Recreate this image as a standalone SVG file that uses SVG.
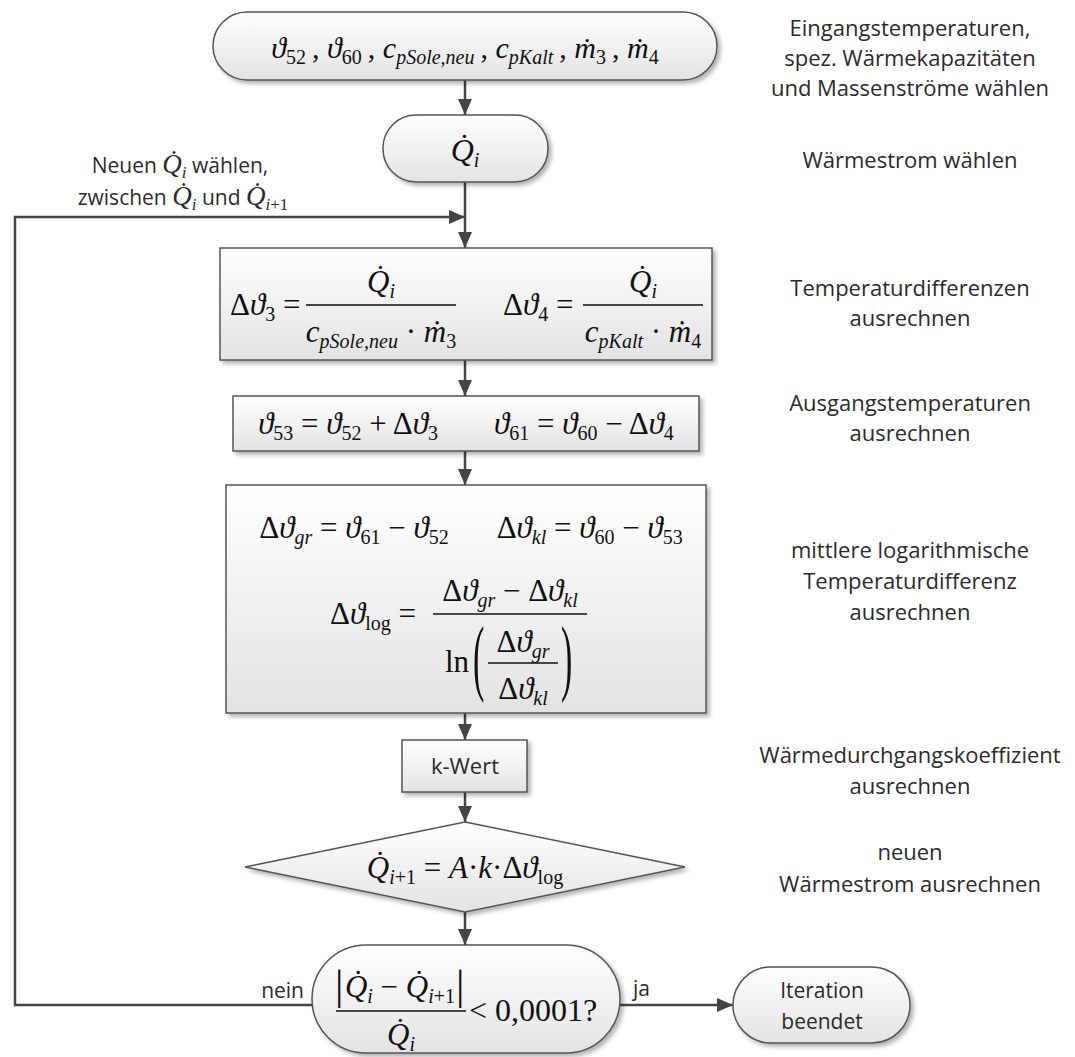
<svg xmlns="http://www.w3.org/2000/svg" width="1075" height="1057" viewBox="0 0 1075 1057">
<style>
.bg{fill:#fff}
.n{fill:url(#g);stroke:#555;stroke-width:1.5;filter:url(#sh)}
.cn{fill:none;stroke:#444;stroke-width:2.5}
.fl{stroke:#111;stroke-width:1.3}
.m{font-family:"Liberation Serif","DejaVu Serif",serif;font-size:31px;fill:#111}
.i{font-style:italic}
.s{font-size:20px}
.l{font-family:"Open Sans","Liberation Sans",sans-serif;font-size:21px;fill:#2b2b2b}
.side{font-size:22px}
.ctr{text-anchor:middle}
.end{text-anchor:end}
.q{font-family:"Liberation Serif","DejaVu Serif",serif;font-style:italic;font-size:27px}
.qs{font-family:"Liberation Serif","DejaVu Serif",serif;font-size:17px}
</style>
<defs>
<linearGradient id="g" x1="0" y1="0" x2="0" y2="1"><stop offset="0" stop-color="#ffffff"/><stop offset="1" stop-color="#e3e3e3"/></linearGradient>
<filter id="sh" x="-10%" y="-10%" width="130%" height="140%"><feDropShadow dx="3" dy="3" stdDeviation="2" flood-color="#000" flood-opacity="0.3"/></filter>
<marker id="ah" markerUnits="userSpaceOnUse" markerWidth="16" markerHeight="14" refX="16" refY="7" orient="auto"><path d="M0,0 L16,7 L0,14 z" fill="#444"/></marker>
</defs>
<rect class="bg" width="1075" height="1057"/>

<g id="connectors">
<line class="cn" x1="465" y1="80" x2="465" y2="115" marker-end="url(#ah)"/>
<line class="cn" x1="465" y1="182" x2="465" y2="248" marker-end="url(#ah)"/>
<path class="cn" d="M312,1005 H15 V217 H465" marker-end="url(#ah)"/>
<line class="cn" x1="465" y1="360" x2="465" y2="396" marker-end="url(#ah)"/>
<line class="cn" x1="465" y1="451" x2="465" y2="485" marker-end="url(#ah)"/>
<line class="cn" x1="465" y1="713" x2="465" y2="740" marker-end="url(#ah)"/>
<line class="cn" x1="465" y1="792" x2="465" y2="822" marker-end="url(#ah)"/>
<line class="cn" x1="465" y1="912" x2="465" y2="945" marker-end="url(#ah)"/>
<line class="cn" x1="620" y1="1005" x2="733" y2="1005" marker-end="url(#ah)"/>
</g>

<g id="start">
<rect class="n" x="213" y="12" width="504" height="68" rx="34"/>
<text class="m ctr" x="465" y="58" style="font-size:30px"><tspan class="i">ϑ</tspan><tspan class="s" dy="6">52</tspan><tspan dy="-6">&#8201;, </tspan><tspan class="i">ϑ</tspan><tspan class="s" dy="6">60</tspan><tspan dy="-6">&#8201;, </tspan><tspan class="i">c</tspan><tspan class="s i" dy="6">pSole,neu</tspan><tspan dy="-6">&#8201;, </tspan><tspan class="i">c</tspan><tspan class="s i" dy="6">pKalt</tspan><tspan dy="-6">&#8201;, </tspan><tspan class="i">ṁ</tspan><tspan class="s" dy="6">3</tspan><tspan dy="-6">&#8201;, </tspan><tspan class="i">ṁ</tspan><tspan class="s" dy="6">4</tspan></text>
</g>

<g id="qi">
<rect class="n" x="383" y="115" width="165" height="67" rx="33"/>
<text class="m ctr" x="465" y="161" style="font-size:32px"><tspan class="i">Q̇</tspan><tspan class="s i" dy="6">i</tspan></text>
</g>

<g id="loop-label">
<text class="l ctr" x="180" y="173">Neuen <tspan class="q">Q̇</tspan><tspan class="qs i" dy="5">i</tspan><tspan dy="-5"> wählen,</tspan></text>
<text class="l ctr" x="183" y="205">zwischen <tspan class="q">Q̇</tspan><tspan class="qs i" dy="5">i</tspan><tspan dy="-5"> und  </tspan><tspan class="q">Q̇</tspan><tspan class="qs" dy="5"><tspan class="i">i</tspan>+1</tspan></text>
</g>

<g id="box1">
<rect class="n" x="220" y="248" width="492" height="112"/>
<text class="m" x="230" y="315">Δ<tspan class="i">ϑ</tspan><tspan class="s" dy="6">3</tspan><tspan dy="-6"> =</tspan></text>
<text class="m ctr" x="381" y="292"><tspan class="i">Q̇</tspan><tspan class="s i" dy="6">i</tspan></text>
<line class="fl" x1="306" y1="305" x2="456" y2="305"/>
<text class="m ctr" x="381" y="342"><tspan class="i">c</tspan><tspan class="s i" dy="6">pSole,neu</tspan><tspan dy="-6"> · </tspan><tspan class="i">ṁ</tspan><tspan class="s" dy="6">3</tspan></text>
<text class="m" x="503" y="315">Δ<tspan class="i">ϑ</tspan><tspan class="s" dy="6">4</tspan><tspan dy="-6"> =</tspan></text>
<text class="m ctr" x="643" y="292"><tspan class="i">Q̇</tspan><tspan class="s i" dy="6">i</tspan></text>
<line class="fl" x1="583" y1="305" x2="703" y2="305"/>
<text class="m ctr" x="643" y="342"><tspan class="i">c</tspan><tspan class="s i" dy="6">pKalt</tspan><tspan dy="-6"> · </tspan><tspan class="i">ṁ</tspan><tspan class="s" dy="6">4</tspan></text>
</g>

<g id="box2">
<rect class="n" x="233" y="396" width="466" height="55"/>
<text class="m ctr" x="466" y="434"><tspan class="i">ϑ</tspan><tspan class="s" dy="6">53</tspan><tspan dy="-6"> = </tspan><tspan class="i">ϑ</tspan><tspan class="s" dy="6">52</tspan><tspan dy="-6"> + Δ</tspan><tspan class="i">ϑ</tspan><tspan class="s" dy="6">3</tspan><tspan dy="-6" dx="56" class="i">ϑ</tspan><tspan class="s" dy="6">61</tspan><tspan dy="-6"> = </tspan><tspan class="i">ϑ</tspan><tspan class="s" dy="6">60</tspan><tspan dy="-6"> − Δ</tspan><tspan class="i">ϑ</tspan><tspan class="s" dy="6">4</tspan></text>
</g>

<g id="box3">
<rect class="n" x="226" y="485" width="480" height="228"/>
<text class="m ctr" x="471" y="538">Δ<tspan class="i">ϑ</tspan><tspan class="s i" dy="6">gr</tspan><tspan dy="-6"> = </tspan><tspan class="i">ϑ</tspan><tspan class="s" dy="6">61</tspan><tspan dy="-6"> − </tspan><tspan class="i">ϑ</tspan><tspan class="s" dy="6">52</tspan><tspan dy="-6" dx="48">Δ</tspan><tspan class="i">ϑ</tspan><tspan class="s i" dy="6">kl</tspan><tspan dy="-6"> = </tspan><tspan class="i">ϑ</tspan><tspan class="s" dy="6">60</tspan><tspan dy="-6"> − </tspan><tspan class="i">ϑ</tspan><tspan class="s" dy="6">53</tspan></text>
<text class="m" x="330" y="624">Δ<tspan class="i">ϑ</tspan><tspan class="s" dy="6">log</tspan><tspan dy="-6"> =</tspan></text>
<text class="m ctr" x="510" y="601">Δ<tspan class="i">ϑ</tspan><tspan class="s i" dy="6">gr</tspan><tspan dy="-6"> − Δ</tspan><tspan class="i">ϑ</tspan><tspan class="s i" dy="6">kl</tspan></text>
<line class="fl" x1="433" y1="614" x2="587" y2="614"/>
<text class="m" x="445" y="672">ln</text>
<text class="m" x="0" y="0" transform="translate(473,685) scale(1,2.5)" style="font-size:34px">(</text>
<text class="m" x="0" y="0" transform="translate(561,685) scale(1,2.5)" style="font-size:34px">)</text>
<text class="m ctr" x="523" y="652">Δ<tspan class="i">ϑ</tspan><tspan class="s i" dy="6">gr</tspan></text>
<line class="fl" x1="488" y1="663" x2="558" y2="663"/>
<text class="m ctr" x="523" y="699">Δ<tspan class="i">ϑ</tspan><tspan class="s i" dy="6">kl</tspan></text>
</g>

<g id="kwert">
<rect class="n" x="402" y="740" width="125" height="52"/>
<text class="l ctr" x="465" y="774" style="font-size:22px">k-Wert</text>
</g>

<g id="decision">
<polygon class="n" points="465,822 685,867 465,912 245,867"/>
<text class="m ctr" x="465" y="878"><tspan class="i">Q̇</tspan><tspan class="s" dy="6"><tspan class="i">i</tspan>+1</tspan><tspan dy="-6"> = </tspan><tspan class="i">A</tspan>·<tspan class="i">k</tspan>·Δ<tspan class="i">ϑ</tspan><tspan class="s" dy="6">log</tspan></text>
</g>

<g id="check">
<rect class="n" x="312" y="945" width="308" height="108" rx="54"/>
<text class="m" x="335" y="999" style="font-size:42px">|</text>
<text class="m ctr" x="400" y="997"><tspan class="i">Q̇</tspan><tspan class="s i" dy="6">i</tspan><tspan dy="-6"> − </tspan><tspan class="i">Q̇</tspan><tspan class="s" dy="6"><tspan class="i">i</tspan>+1</tspan></text>
<text class="m" x="456" y="999" style="font-size:42px">|</text>
<line class="fl" x1="336" y1="1011" x2="466" y2="1011"/>
<text class="m ctr" x="401" y="1045"><tspan class="i">Q̇</tspan><tspan class="s i" dy="6">i</tspan></text>
<text class="m" x="469" y="1021" style="font-size:32px">&lt; 0,0001?</text>
</g>

<g id="end">
<rect class="n" x="733" y="967" width="177" height="76" rx="38"/>
<text class="l ctr" x="822" y="998">Iteration</text>
<text class="l ctr" x="822" y="1029">beendet</text>
</g>

<g id="branch-labels">
<text class="l end" x="304" y="998">nein</text>
<text class="l" x="633" y="996">ja</text>
</g>

<g id="side-labels">
<text class="l side ctr" x="910" y="36">Eingangstemperaturen,</text>
<text class="l side ctr" x="910" y="66">spez. Wärmekapazitäten</text>
<text class="l side ctr" x="910" y="96">und Massenströme wählen</text>
<text class="l side ctr" x="910" y="168">Wärmestrom wählen</text>
<text class="l side ctr" x="910" y="296">Temperaturdifferenzen</text>
<text class="l side ctr" x="910" y="326">ausrechnen</text>
<text class="l side ctr" x="910" y="411">Ausgangstemperaturen</text>
<text class="l side ctr" x="910" y="441">ausrechnen</text>
<text class="l side ctr" x="910" y="558">mittlere logarithmische</text>
<text class="l side ctr" x="910" y="589">Temperaturdifferenz</text>
<text class="l side ctr" x="910" y="620">ausrechnen</text>
<text class="l side ctr" x="910" y="763">Wärmedurchgangskoeffizient</text>
<text class="l side ctr" x="910" y="794">ausrechnen</text>
<text class="l side ctr" x="910" y="860">neuen</text>
<text class="l side ctr" x="910" y="892">Wärmestrom ausrechnen</text>
</g>
</svg>
